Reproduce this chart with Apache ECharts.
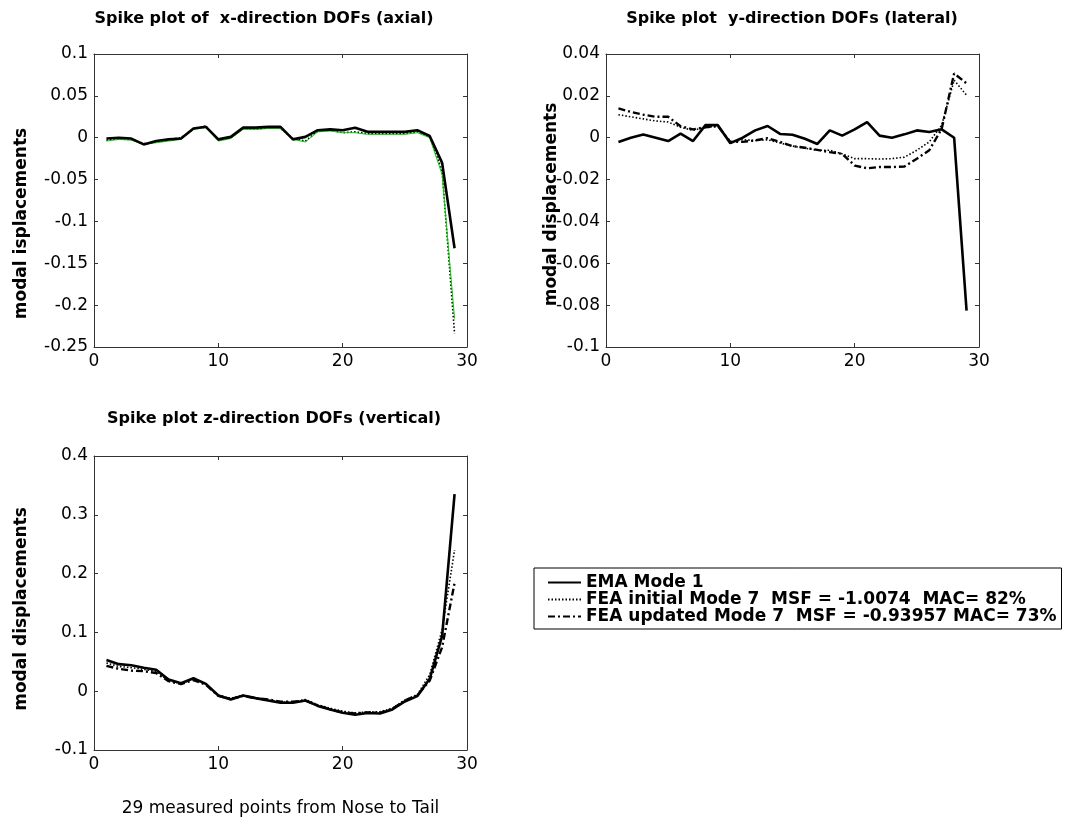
<!DOCTYPE html>
<html>
<head>
<meta charset="utf-8">
<title>Spike plots</title>
<script src="https://cdn.jsdelivr.net/npm/echarts@6/dist/echarts.min.js"></script>
<style>
  html, body { margin: 0; padding: 0; background: #fff; }
  #chart { width: 1066px; height: 818px; }
</style>
</head>
<body>
<div id="chart"></div>
<script>
// measured points 1..29, nose to tail
const points = [1, 2, 3, 4, 5, 6, 7, 8, 9, 10, 11, 12, 13, 14, 15, 16, 17, 18, 19, 20, 21, 22, 23, 24, 25, 26, 27, 28, 29];

const xTicks = [0, 10, 20, 30];

const legendNames = [
  'EMA Mode 1',
  'FEA initial Mode 7  MSF = -1.0074  MAC= 82%',
  'FEA updated Mode 7  MSF = -0.93957 MAC= 73%'
];

// x-direction (axial)
const emaX = [-0.001, 0, -0.001, -0.008, -0.004, -0.002, -0.001, 0.011, 0.013, -0.002, 0.001, 0.012, 0.012, 0.013, 0.013, -0.002, 0.001, 0.009, 0.010, 0.009, 0.012, 0.007, 0.007, 0.007, 0.007, 0.009, 0.002, -0.030, -0.132];
const initX = [-0.003, -0.001, -0.002, -0.007, -0.005, -0.002, 0.000, 0.010, 0.014, -0.003, 0.000, 0.011, 0.010, 0.012, 0.011, -0.001, -0.004, 0.008, 0.009, 0.006, 0.007, 0.005, 0.005, 0.005, 0.005, 0.007, 0.002, -0.040, -0.234];
const updX = [-0.004, -0.002, -0.003, -0.008, -0.006, -0.004, -0.002, 0.010, 0.012, -0.004, -0.001, 0.010, 0.010, 0.011, 0.011, -0.002, -0.005, 0.007, 0.008, 0.006, 0.006, 0.004, 0.004, 0.004, 0.004, 0.006, 0.000, -0.044, -0.216];

// y-direction (lateral)
const emaY = [-0.002, 0, 0.0015, 0, -0.0016, 0.002, -0.0016, 0.006, 0.006, -0.0026, 0, 0.0035, 0.0056, 0.0018, 0.0014, -0.0005, -0.003, 0.0035, 0.001, 0.004, 0.0075, 0.001, 0, 0.0016, 0.0035, 0.0027, 0.004, 0, -0.0826];
const initY = [0.011, 0.010, 0.009, 0.008, 0.0075, 0.005, 0.0035, 0.005, 0.0055, -0.002, -0.001, -0.0013, -0.001, -0.0025, -0.004, -0.005, -0.006, -0.006, -0.0077, -0.010, -0.010, -0.0102, -0.010, -0.0093, -0.006, -0.002, 0.006, 0.0275, 0.0203];
const updY = [0.014, 0.0123, 0.011, 0.010, 0.010, 0.0055, 0.004, 0.005, 0.0055, -0.002, -0.002, -0.0013, -0.0002, -0.002, -0.004, -0.0048, -0.0058, -0.0069, -0.0077, -0.0133, -0.0146, -0.014, -0.014, -0.0138, -0.010, -0.006, 0.0043, 0.0307, 0.026];

// z-direction (vertical)
const emaZ = [0.053, 0.046, 0.044, 0.040, 0.0365, 0.0197, 0.0135, 0.022, 0.0124, -0.0073, -0.014, -0.0073, -0.0118, -0.0157, -0.0197, -0.0197, -0.0157, -0.025, -0.031, -0.0365, -0.040, -0.037, -0.038, -0.031, -0.0174, -0.0084, 0.021, 0.094, 0.335];
const initZ = [0.048, 0.042, 0.040, 0.037, 0.034, 0.018, 0.013, 0.021, 0.012, -0.007, -0.012, -0.007, -0.011, -0.015, -0.018, -0.019, -0.014, -0.023, -0.029, -0.034, -0.037, -0.035, -0.035, -0.029, -0.015, -0.006, 0.028, 0.105, 0.240];
const updZ = [0.043, 0.038, 0.035, 0.034, 0.031, 0.017, 0.012, 0.019, 0.011, -0.008, -0.013, -0.008, -0.012, -0.014, -0.018, -0.018, -0.016, -0.024, -0.031, -0.036, -0.038, -0.036, -0.037, -0.030, -0.016, -0.007, 0.018, 0.075, 0.184];

const FONT = 'DejaVu Sans';
const AXIS_COLOR = '#333';

const chart = echarts.init(document.getElementById('chart'), null, { renderer: 'canvas' });

function pairs(vals) {
  return points.map((p, i) => [p, vals[i]]);
}

const grids = [
  { left: 94, top: 54, width: 373, height: 293 },
  { left: 606, top: 54, width: 373, height: 293 },
  { left: 94, top: 456, width: 373, height: 295 }
];

// pad pushes the rotated name down the axis (matlab placed them a bit low)
// lh: height of the white box behind the name (the lateral one hides the minus signs, as in the original)
const yRanges = [
  { min: -0.25, max: 0.1, interval: 0.05, name: 'modal isplacements', gap: 65, pad: 46, lh: 14 },
  { min: -0.1, max: 0.04, interval: 0.02, name: 'modal displacements', gap: 42, pad: 8, lh: 24 },
  { min: -0.1, max: 0.4, interval: 0.1, name: 'modal displacements', gap: 65, pad: 12, lh: 14 }
];

const xAxis = [];
const yAxis = [];
grids.forEach((g, i) => {
  // bottom axis with labels
  xAxis.push({
    gridIndex: i, type: 'value', min: 0, max: 30, interval: 10, position: 'bottom',
    name: i === 2 ? '29 measured points from Nose to Tail' : '',
    nameLocation: 'middle', nameGap: 50, nameMoveOverlap: false,
    nameTextStyle: { fontFamily: FONT, fontSize: 17, color: '#000' },
    axisLine: { onZero: false, lineStyle: { color: AXIS_COLOR, width: 1 } },
    axisTick: { inside: true, length: 4, lineStyle: { color: AXIS_COLOR } },
    axisLabel: { fontFamily: FONT, fontSize: 17, color: '#000', margin: 6,
      formatter: v => xTicks.includes(v) ? String(v) : '' },
    splitLine: { show: false }
  });
  // mirrored top axis, ticks only
  xAxis.push({
    gridIndex: i, type: 'value', min: 0, max: 30, interval: 10, position: 'top',
    axisLine: { onZero: false, lineStyle: { color: AXIS_COLOR, width: 1 } },
    axisTick: { inside: true, length: 4, lineStyle: { color: AXIS_COLOR } },
    axisLabel: { show: false },
    splitLine: { show: false }
  });
  const r = yRanges[i];
  yAxis.push({
    gridIndex: i, type: 'value', min: r.min, max: r.max, interval: r.interval, position: 'left',
    name: r.name, nameLocation: 'middle', nameGap: r.gap, nameRotate: 90, nameMoveOverlap: false,
    nameTextStyle: { fontFamily: FONT, fontSize: 17, fontWeight: 'bold', color: '#000',
      backgroundColor: '#fff', lineHeight: r.lh, padding: [0, r.pad, 0, 0] },
    axisLine: { show: true, onZero: false, lineStyle: { color: AXIS_COLOR, width: 1 } },
    axisTick: { show: true, inside: true, length: 4, lineStyle: { color: AXIS_COLOR } },
    axisLabel: { fontFamily: FONT, fontSize: 17, color: '#000', margin: 6 },
    splitLine: { show: false },
    z: 5
  });
  yAxis.push({
    gridIndex: i, type: 'value', min: r.min, max: r.max, interval: r.interval, position: 'right',
    axisLine: { show: true, onZero: false, lineStyle: { color: AXIS_COLOR, width: 1 } },
    axisTick: { show: true, inside: true, length: 4, lineStyle: { color: AXIS_COLOR } },
    axisLabel: { show: false },
    splitLine: { show: false }
  });
});

function line(name, grid, vals, style, z) {
  return {
    type: 'line', name: name,
    xAxisIndex: grid * 2, yAxisIndex: grid * 2,
    data: pairs(vals),
    symbol: 'none', smooth: false, animation: false, z: z,
    lineStyle: style,
    itemStyle: { color: style.color },
    emphasis: { disabled: true }
  };
}

const solid = { color: '#000', width: 2.6, type: 'solid' };
const dotted = { color: '#000', width: 1.6, type: [1.5, 2] };
const dashDot = { color: '#000', width: 2.4, type: [7, 3, 2, 3] };
const greenLine = { color: '#00d000', width: 1, type: 'solid' };

const series = [
  // lateral plot first so the legend takes its black styles
  line(legendNames[1], 1, initY, dotted, 3),
  line(legendNames[2], 1, updY, dashDot, 4),
  line(legendNames[0], 1, emaY, solid, 5),
  line(legendNames[1], 0, initX, dotted, 3),
  line(legendNames[2], 0, updX, greenLine, 4),
  line(legendNames[0], 0, emaX, solid, 5),
  line(legendNames[1], 2, initZ, dotted, 3),
  line(legendNames[2], 2, updZ, dashDot, 4),
  line(legendNames[0], 2, emaZ, solid, 5)
];

const titleStyle = { fontFamily: FONT, fontSize: 16, fontWeight: 'bold', color: '#000' };

chart.setOption({
  backgroundColor: '#fff',
  animation: false,
  title: [
    { text: 'Spike plot of  x-direction DOFs (axial)', left: 264, top: 11, textAlign: 'center', textStyle: titleStyle, padding: 0 },
    { text: 'Spike plot  y-direction DOFs (lateral)', left: 792, top: 11, textAlign: 'center', textStyle: titleStyle, padding: 0 },
    { text: 'Spike plot z-direction DOFs (vertical)', left: 274, top: 411, textAlign: 'center', textStyle: titleStyle, padding: 0 }
  ],
  legend: {
    data: legendNames,
    orient: 'vertical',
    left: 534, top: 568,
    padding: [6, 5, 4, 13],
    itemGap: 0,
    itemWidth: 33, itemHeight: 14,
    borderColor: '#000', borderWidth: 1,
    backgroundColor: '#fff',
    selectedMode: false,
    itemStyle: { opacity: 0 },
    textStyle: { fontFamily: FONT, fontSize: 17, fontWeight: 'bold', color: '#000', lineHeight: 17 },
    lineStyle: { width: 2 }
  },
  grid: grids,
  xAxis: xAxis,
  yAxis: yAxis,
  series: series
});
</script>
</body>
</html>
